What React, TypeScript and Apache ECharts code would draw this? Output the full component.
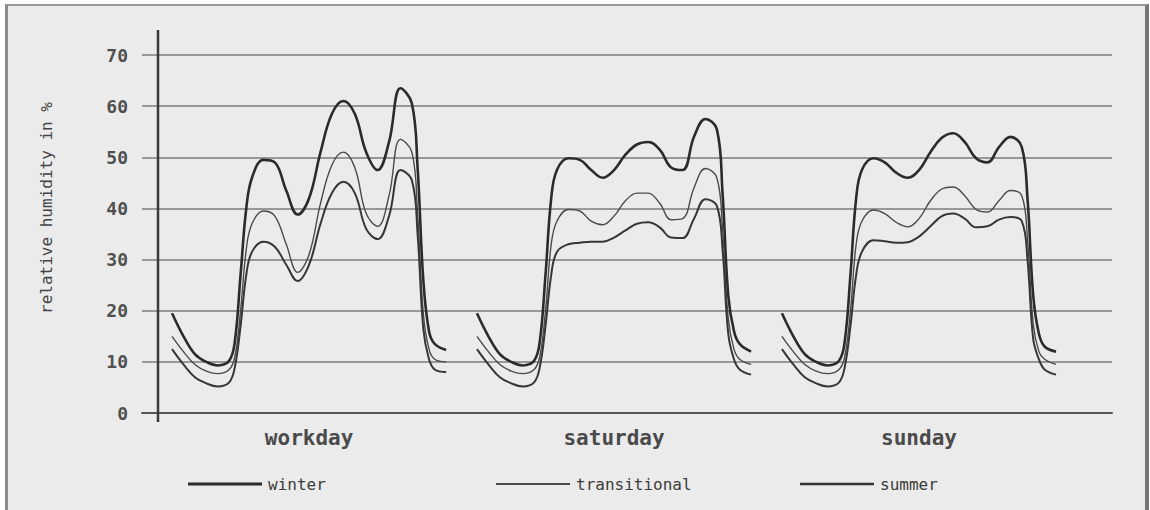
import React, { useEffect, useRef } from "react";
import * as echarts from "echarts";

// hour-of-day grid shared by all curves
const hours = [0, 1, 2, 3, 4, 5, 5.5, 6, 6.5, 7, 8, 9, 10, 11, 12, 13, 14, 15, 16, 17, 18, 19, 20, 21, 21.5, 22, 22.5, 23, 24];

const categories = ["workday", "saturday", "sunday"];
const dayOffsets = [0, 26.7, 53.4];
const categoryCenters = [12, 38.7, 65.4];
const seasons = ["winter", "transitional", "summer"];

const workdayWinter = [19.5, 15, 11.5, 10, 9.3, 10.2, 14, 27, 40, 46, 49.5, 49, 43.5, 38.8, 42, 51, 58.5, 61, 58.5, 51, 47.5, 53, 63.5, 60.5, 48, 26, 16, 13.5, 12.3];
const workdayTransitional = [15, 12, 9.5, 8.2, 7.7, 8.5, 11, 20, 32, 37, 39.5, 38.5, 33, 27.5, 31, 41, 48.5, 51, 48, 39, 36.5, 42.5, 53.5, 51, 39, 19.5, 12.5, 10.5, 10];
const workdaySummer = [12.5, 9.5, 7, 5.8, 5.2, 6, 9, 17, 27, 31.5, 33.5, 32.5, 29, 25.8, 29, 37, 43, 45.2, 43, 36, 34, 38.5, 47.5, 45.5, 35, 16.5, 10.5, 8.5, 8];

const saturdayWinter = [19.5, 15, 11.5, 10, 9.3, 10.2, 14, 27, 42, 47.5, 49.8, 49.5, 47.5, 46, 47.5, 50.5, 52.5, 53, 51.5, 48, 47.5, 54, 57.5, 55.5, 43, 23, 16, 13.5, 12];
const saturdayTransitional = [15, 12, 9.5, 8.2, 7.7, 8.5, 11, 20, 33, 37.5, 39.8, 39.5, 37.5, 36.8, 38.5, 41.5, 43, 43, 41, 37.8, 38, 44, 47.8, 46, 36, 18.5, 12.5, 10.5, 9.5];
const saturdaySummer = [12.5, 9.5, 7, 5.8, 5.2, 6, 9, 17, 27, 31.5, 33, 33.3, 33.5, 33.5, 34.3, 35.7, 37, 37.3, 36.3, 34.3, 34.2, 38, 41.8, 40.5, 32, 15.5, 10.5, 8.5, 7.5];

const sundayWinter = [19.5, 15, 11.5, 10, 9.3, 10.2, 14, 27, 42, 47.5, 49.8, 49, 47, 46, 47.5, 51, 53.8, 54.7, 53, 49.8, 49, 52, 54, 52, 42, 23, 15.5, 13, 12];
const sundayTransitional = [15, 12, 9.5, 8.2, 7.7, 8.5, 11, 20, 33, 37.5, 39.7, 39, 37.3, 36.4, 38, 41.5, 43.8, 44.2, 42.5, 39.8, 39.3, 41.5, 43.5, 42.5, 34, 17.5, 12, 10.5, 9.5];
const sundaySummer = [12.5, 9.5, 7, 5.8, 5.2, 6, 9, 17, 27, 31.5, 33.8, 33.6, 33.3, 33.4, 34.5, 36.5, 38.5, 39, 38, 36.3, 36.5, 37.8, 38.3, 37.5, 30, 14.5, 10.5, 8.5, 7.5];

const seasonDays: Record<string, number[][]> = {
  winter: [workdayWinter, saturdayWinter, sundayWinter],
  transitional: [workdayTransitional, saturdayTransitional, sundayTransitional],
  summer: [workdaySummer, saturdaySummer, sundaySummer],
};

const styles: Record<string, { color: string; width: number }> = {
  winter: { color: "#2b2b2b", width: 2.6 },
  transitional: { color: "#4a4a4a", width: 1.4 },
  summer: { color: "#363636", width: 2 },
};

const MONO = "'DejaVu Sans Mono', 'Liberation Mono', monospace";

function buildData(season: string) {
  const out: any[] = [];
  seasonDays[season].forEach((vals, d) => {
    hours.forEach((h, i) => out.push([h + dayOffsets[d], vals[i]]));
    out.push([dayOffsets[d] + 25, null]);
  });
  return out;
}

export default function App() {
  const ref = useRef<HTMLDivElement>(null);
  useEffect(() => {
    if (!ref.current) return;
    const chart = echarts.init(ref.current, undefined, { renderer: "svg" });
    const legendLefts = [188, 496, 800];
    chart.setOption({
      animation: false,
      backgroundColor: "transparent",
      grid: { left: 142, right: 38, top: 55, bottom: 97 },
      xAxis: {
        type: "value",
        min: -2.63,
        max: 82.3,
        splitLine: { show: false },
        axisTick: { show: false },
        axisLine: { show: true, lineStyle: { color: "#555", width: 2 } },
        axisLabel: {
          customValues: categoryCenters,
          margin: 14,
          fontSize: 21,
          fontWeight: "bold",
          fontFamily: MONO,
          color: "#4a4a4a",
          formatter: (v: number) => {
            const i = Math.round((v - categoryCenters[0]) / (categoryCenters[1] - categoryCenters[0]));
            return categories[i] ?? "";
          },
        },
      },
      yAxis: {
        type: "value",
        min: 0,
        max: 70,
        interval: 10,
        name: "relative humidity in %",
        nameLocation: "middle",
        nameRotate: 90,
        nameGap: 88,
        nameTextStyle: { fontFamily: MONO, fontSize: 16, color: "#444", padding: [0, 0, 0, 52] },
        axisLine: { show: false },
        axisTick: { show: false },
        axisLabel: { margin: 14, fontFamily: MONO, fontSize: 18, fontWeight: "bold", color: "#505050" },
        splitLine: { lineStyle: { color: "#7c7c7c", width: 1.5 } },
      },
      legend: seasons.map((s, i) => ({
        data: [s],
        left: legendLefts[i],
        top: 476,
        padding: 0,
        itemWidth: 74,
        itemHeight: styles[s].width + 0.4,
        icon: "rect",
        itemGap: 6,
        textStyle: { fontFamily: MONO, fontSize: 16, color: "#3c3c3c", padding: [0, 0, 0, 1] },
        selectedMode: false,
      })),
      graphic: [
        {
          type: "line",
          shape: { x1: 158, y1: 30, x2: 158, y2: 422 },
          style: { stroke: "#3a3a3a", lineWidth: 2.5 },
          z: 10,
        },
      ],
      series: seasons.map((s) => ({
        name: s,
        type: "line",
        data: buildData(s),
        smooth: 0.4,
        showSymbol: false,
        connectNulls: false,
        color: styles[s].color,
        lineStyle: { color: styles[s].color, width: styles[s].width },
        itemStyle: { color: styles[s].color },
        silent: true,
      })),
    });
    return () => chart.dispose();
  }, []);

  return (
    <div style={{ position: "fixed", left: 0, top: 0, width: 1150, height: 510, background: "#fff", overflow: "hidden" }}>
      <div
        style={{
          position: "absolute",
          left: 5,
          top: 4,
          width: 1137,
          height: 520,
          background: "#ebebeb",
          borderLeft: "3px solid #8a8a8a",
          borderTop: "2px solid #9a9a9a",
          borderRight: "4px solid #777",
          boxSizing: "content-box",
        }}
      />
      <div ref={ref} style={{ position: "absolute", left: 0, top: 0, width: 1150, height: 510 }} />
    </div>
  );
}
